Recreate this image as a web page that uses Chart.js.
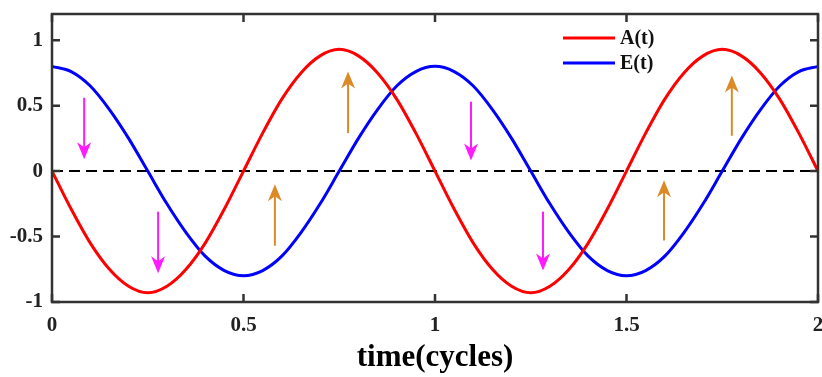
<!DOCTYPE html>
<html>
<head>
<meta charset="utf-8">
<script src="https://cdn.jsdelivr.net/npm/chart.js@4"></script>
<style>
  html, body { margin: 0; padding: 0; background: #fff; }
  #wrap { width: 822px; height: 377px; }
</style>
</head>
<body>
<div id="wrap"><canvas id="waveChart" width="822" height="377"></canvas></div>
<script>
// time samples (cycles)
let timeValues = [
    0, 0.05, 0.1, 0.15, 0.2, 0.25, 0.3, 0.35, 0.4, 0.45, 0.5,
    0.55, 0.6, 0.65, 0.7, 0.75, 0.8, 0.85, 0.9, 0.95, 1,
    1.05, 1.1, 1.15, 1.2, 1.25, 1.3, 1.35, 1.4, 1.45, 1.5,
    1.55, 1.6, 1.65, 1.7, 1.75, 1.8, 1.85, 1.9, 1.95, 2
];
let aValues = [
    0, -0.29, -0.55, -0.75, -0.88, -0.93, -0.88, -0.75, -0.55, -0.29, 0,
    0.29, 0.55, 0.75, 0.88, 0.93, 0.88, 0.75, 0.55, 0.29, 0,
    -0.29, -0.55, -0.75, -0.88, -0.93, -0.88, -0.75, -0.55, -0.29, 0,
    0.29, 0.55, 0.75, 0.88, 0.93, 0.88, 0.75, 0.55, 0.29, 0
];
let eValues = [
    0.8, 0.76, 0.65, 0.47, 0.25, 0, -0.25, -0.47, -0.65, -0.76, -0.8,
    -0.76, -0.65, -0.47, -0.25, 0, 0.25, 0.47, 0.65, 0.76, 0.8,
    0.76, 0.65, 0.47, 0.25, 0, -0.25, -0.47, -0.65, -0.76, -0.8,
    -0.76, -0.65, -0.47, -0.25, 0, 0.25, 0.47, 0.65, 0.76, 0.8
];
let xTicks = [0, 0.5, 1, 1.5, 2];
let yTicks = [-1, -0.5, 0, 0.5, 1];

// arrows: [x, yFrom, yTo]
let downArrows = [
    [0.084, 0.56, 0.09],
    [0.277, -0.31, -0.78],
    [1.094, 0.53, 0.08],
    [1.282, -0.31, -0.76],
];
let upArrows = [
    [0.582, -0.57, -0.10],
    [0.773, 0.29, 0.76],
    [1.598, -0.53, -0.07],
    [1.775, 0.27, 0.73],
];

let serif = "'Liberation Serif', 'Times New Roman', serif";

function drawArrow(ctx, x, y1, y2, color) {
    let dir = y2 > y1 ? 1 : -1;
    ctx.save();
    ctx.strokeStyle = color;
    ctx.fillStyle = color;
    ctx.lineWidth = 2;
    ctx.beginPath();
    ctx.moveTo(x, y1);
    ctx.lineTo(x, y2 - dir * 8);
    ctx.stroke();
    ctx.beginPath();
    ctx.moveTo(x, y2);
    ctx.lineTo(x - 7, y2 - dir * 17);
    ctx.lineTo(x, y2 - dir * 12);
    ctx.lineTo(x + 7, y2 - dir * 17);
    ctx.closePath();
    ctx.fill();
    ctx.restore();
}

let framePlugin = {
    id: 'framePlugin',
    beforeDatasetsDraw(chart) {
        let { ctx, chartArea: a, scales: { x, y } } = chart;
        // zero line
        ctx.save();
        ctx.strokeStyle = '#000';
        ctx.lineWidth = 2;
        ctx.setLineDash([11, 6]);
        ctx.beginPath();
        ctx.moveTo(a.left, y.getPixelForValue(0));
        ctx.lineTo(a.right, y.getPixelForValue(0));
        ctx.stroke();
        ctx.restore();
    },
    afterDatasetsDraw(chart) {
        let { ctx, chartArea: a, scales: { x, y } } = chart;
        downArrows.forEach(d => drawArrow(ctx, x.getPixelForValue(d[0]), y.getPixelForValue(d[1]), y.getPixelForValue(d[2]), '#ff1aff'));
        upArrows.forEach(d => drawArrow(ctx, x.getPixelForValue(d[0]), y.getPixelForValue(d[1]), y.getPixelForValue(d[2]), '#dc8a26'));

        ctx.save();
        ctx.strokeStyle = '#333';
        ctx.lineWidth = 2.5;
        ctx.strokeRect(a.left, a.top, a.right - a.left, a.bottom - a.top);
        ctx.beginPath();
        xTicks.forEach(v => {
            let px = x.getPixelForValue(v);
            ctx.moveTo(px, a.bottom); ctx.lineTo(px, a.bottom - 8);
            ctx.moveTo(px, a.top); ctx.lineTo(px, a.top + 8);
        });
        yTicks.forEach(v => {
            let py = y.getPixelForValue(v);
            ctx.moveTo(a.left, py); ctx.lineTo(a.left + 8, py);
            ctx.moveTo(a.right, py); ctx.lineTo(a.right - 8, py);
        });
        ctx.stroke();
        ctx.restore();
    }
};

let ctx = document.getElementById('waveChart');

new Chart(ctx, {
    type: 'scatter',
    data: {
        datasets: [
            {
                label: 'A(t)',
                data: timeValues.map((t, i) => ({ x: t, y: aValues[i] })),
                borderColor: '#ff0000',
                backgroundColor: '#ff0000',
                borderWidth: 3,
                showLine: true,
                pointRadius: 0,
                cubicInterpolationMode: 'monotone',
            },
            {
                label: 'E(t)',
                data: timeValues.map((t, i) => ({ x: t, y: eValues[i] })),
                borderColor: '#0000ff',
                backgroundColor: '#0000ff',
                borderWidth: 3,
                showLine: true,
                pointRadius: 0,
                cubicInterpolationMode: 'monotone',
            }
        ]
    },
    options: {
        responsive: false,
        animation: false,
        layout: { padding: { left: 0, right: 4, top: 14, bottom: 0 } },
        plugins: {
            legend: { display: false },
            tooltip: { enabled: false },
        },
        scales: {
            x: {
                type: 'linear',
                min: 0,
                max: 2,
                afterBuildTicks: s => { s.ticks = xTicks.map(v => ({ value: v })); },
                afterFit: s => { s.height = 75; s.paddingLeft = 0; s.paddingRight = 0; },
                grid: { display: false, drawTicks: false },
                border: { display: false },
                ticks: {
                    padding: 11,
                    color: '#222',
                    font: { family: serif, size: 21, weight: 'bold' },
                    callback: v => String(v),
                },
                title: {
                    display: true,
                    text: 'time(cycles)',
                    color: '#000',
                    font: { family: serif, size: 31, weight: 'bold' },
                    padding: { top: 0, bottom: 0 },
                },
            },
            y: {
                type: 'linear',
                min: -1,
                max: 1.2,
                afterBuildTicks: s => { s.ticks = yTicks.map(v => ({ value: v })); },
                afterFit: s => { s.width = 52; s.paddingTop = 0; s.paddingBottom = 0; },
                grid: { display: false, drawTicks: false },
                border: { display: false },
                ticks: {
                    padding: 9,
                    color: '#222',
                    font: { family: serif, size: 21, weight: 'bold' },
                    callback: v => String(v),
                },
            },
        },
    },
    plugins: [framePlugin, {
        id: 'legendBox',
        afterDraw(chart) {
            let c = chart.ctx;
            let items = [['A(t)', '#ff0000', 38], ['E(t)', '#0000ff', 63]];
            c.save();
            c.font = `bold 20px ${serif}`;
            c.textBaseline = 'middle';
            items.forEach(it => {
                c.strokeStyle = it[1];
                c.lineWidth = 3;
                c.beginPath();
                c.moveTo(563, it[2]);
                c.lineTo(615, it[2]);
                c.stroke();
                c.fillStyle = '#111';
                c.fillText(it[0], 620, it[2] + 1);
            });
            c.restore();
        }
    }],
});
</script>
</body>
</html>
